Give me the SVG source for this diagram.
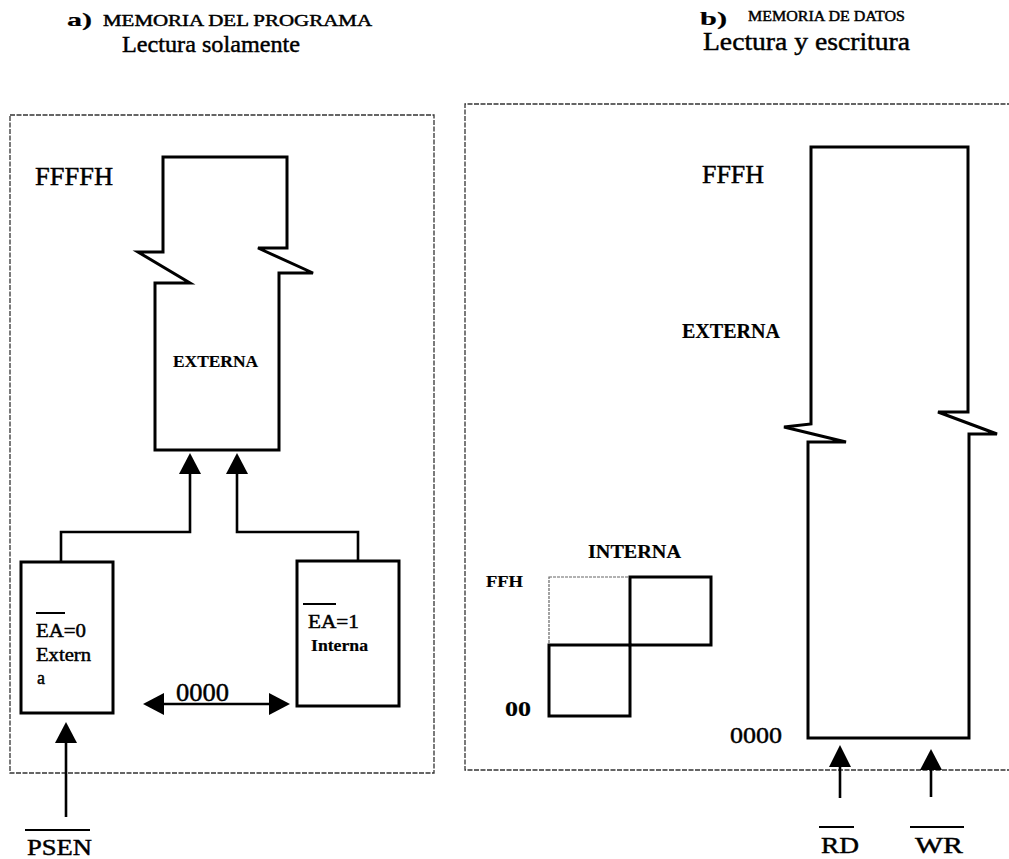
<svg xmlns="http://www.w3.org/2000/svg" width="1009" height="859" viewBox="0 0 1009 859">
<style>
text{font-family:"Liberation Serif","Times New Roman",serif;fill:#000;stroke:#000;stroke-width:0.45}
.b{font-weight:bold;stroke-width:0.2}
.panel{fill:none;stroke:#333;stroke-width:1.3;stroke-dasharray:5 1.5}
.thick{fill:none;stroke:#000;stroke-width:3;stroke-linejoin:miter}
.wire{fill:none;stroke:#000;stroke-width:2.6}
.ov{stroke:#000;stroke-width:2}
.head{fill:#000;stroke:none}
</style>
<rect width="1009" height="859" fill="#fff"/>

<!-- titles -->
<g id="title-a">
<text x="67" y="26" class="b" font-size="19" textLength="25" lengthAdjust="spacingAndGlyphs">a)</text>
<text x="103" y="26" font-size="16" textLength="269" lengthAdjust="spacingAndGlyphs">MEMORIA DEL PROGRAMA</text>
<text x="122" y="52" font-size="24" textLength="178" lengthAdjust="spacingAndGlyphs">Lectura solamente</text>
</g>
<g id="title-b">
<text x="700" y="25" class="b" font-size="18" textLength="27" lengthAdjust="spacingAndGlyphs">b)</text>
<text x="748" y="21" font-size="15" textLength="157" lengthAdjust="spacingAndGlyphs">MEMORIA DE DATOS</text>
<text x="703" y="50" font-size="25" textLength="207" lengthAdjust="spacingAndGlyphs">Lectura y escritura</text>
</g>

<!-- panel a -->
<g id="panel-a">
<rect x="10" y="115" width="424" height="658" class="panel"/>
<text x="35" y="185" font-size="26" textLength="78" lengthAdjust="spacingAndGlyphs">FFFFH</text>
</g>

<g id="prog-externa">
<path class="thick" d="M163,157 H287 V248 H258 L313,273 H279 V450 H155 V283 H190 L138,252 H163 Z"/>
<text x="173" y="367" class="b" font-size="17" textLength="85" lengthAdjust="spacingAndGlyphs">EXTERNA</text>
</g>

<g id="ea0">
<rect x="21" y="562" width="92" height="151" class="thick"/>
<line x1="36" y1="613" x2="65" y2="613" class="ov"/>
<text x="36" y="637" font-size="18" textLength="50" lengthAdjust="spacingAndGlyphs">EA=0</text>
<text x="36" y="661" font-size="18" textLength="55" lengthAdjust="spacingAndGlyphs">Extern</text>
<text x="37" y="684" font-size="18">a</text>
</g>

<g id="ea1">
<rect x="297" y="561" width="102" height="145" class="thick"/>
<line x1="303" y1="604" x2="336" y2="604" class="ov"/>
<text x="308" y="628" font-size="18" textLength="51" lengthAdjust="spacingAndGlyphs">EA=1</text>
<text x="311" y="651" class="b" font-size="16" textLength="57" lengthAdjust="spacingAndGlyphs">Interna</text>
</g>

<g id="addr-0000-a">
<text x="176" y="701" font-size="25" textLength="53" lengthAdjust="spacingAndGlyphs">0000</text>
</g>

<g id="psen">
<line x1="25" y1="830" x2="90" y2="830" class="ov"/>
<text x="27" y="855" font-size="23" textLength="65" lengthAdjust="spacingAndGlyphs">PSEN</text>
</g>

<!-- panel b -->
<g id="panel-b">
<path class="panel" d="M1012,104 H465 V770 H1012"/>
<text x="702" y="183" font-size="25" textLength="62" lengthAdjust="spacingAndGlyphs">FFFH</text>
<text x="682" y="338" class="b" font-size="20" textLength="98" lengthAdjust="spacingAndGlyphs">EXTERNA</text>
</g>

<g id="data-externa">
<path class="thick" d="M811,147 H968 V412 H938 L997,434 H969 V738 H808 V442 H846 L784,427 L811,424 Z"/>
<text x="730" y="743" font-size="24" textLength="52" lengthAdjust="spacingAndGlyphs">0000</text>
</g>

<g id="data-interna">
<text x="588" y="558" class="b" font-size="19" textLength="93" lengthAdjust="spacingAndGlyphs">INTERNA</text>
<text x="486" y="587" class="b" font-size="16" textLength="37" lengthAdjust="spacingAndGlyphs">FFH</text>
<text x="505" y="716" class="b" font-size="22" textLength="26" lengthAdjust="spacingAndGlyphs">00</text>
<rect x="549" y="577" width="81" height="68" fill="none" stroke="#666" stroke-width="1.2" stroke-dasharray="3 1"/>
<rect x="630" y="577" width="81" height="68" class="thick"/>
<rect x="549" y="645" width="81" height="71" class="thick"/>
</g>

<g id="rd">
<line x1="819" y1="827" x2="854" y2="827" class="ov"/>
<text x="821" y="853" font-size="24" textLength="38" lengthAdjust="spacingAndGlyphs">RD</text>
</g>
<g id="wr">
<line x1="910" y1="827" x2="964" y2="827" class="ov"/>
<text x="915" y="853" font-size="24" textLength="48" lengthAdjust="spacingAndGlyphs">WR</text>
</g>

<!-- connectors -->
<g id="connectors">
<path class="wire" d="M61,562 V532 H190 V470"/>
<polygon class="head" points="190,453 179,474 201,474"/>
<path class="wire" d="M358,561 V532 H237 V470"/>
<polygon class="head" points="237,453 226,474 248,474"/>
<line class="wire" x1="160" y1="704" x2="273" y2="704"/>
<polygon class="head" points="143,704 164,693 164,715"/>
<polygon class="head" points="290,704 269,693 269,715"/>
<line class="wire" x1="66" y1="739" x2="66" y2="817"/>
<polygon class="head" points="66,722 55,743 77,743"/>
<line class="wire" x1="840" y1="764" x2="840" y2="798"/>
<polygon class="head" points="840,745 829,767 851,767"/>
<line class="wire" x1="931" y1="767" x2="931" y2="797"/>
<polygon class="head" points="931,749 920,770 942,770"/>
</g>
</svg>
